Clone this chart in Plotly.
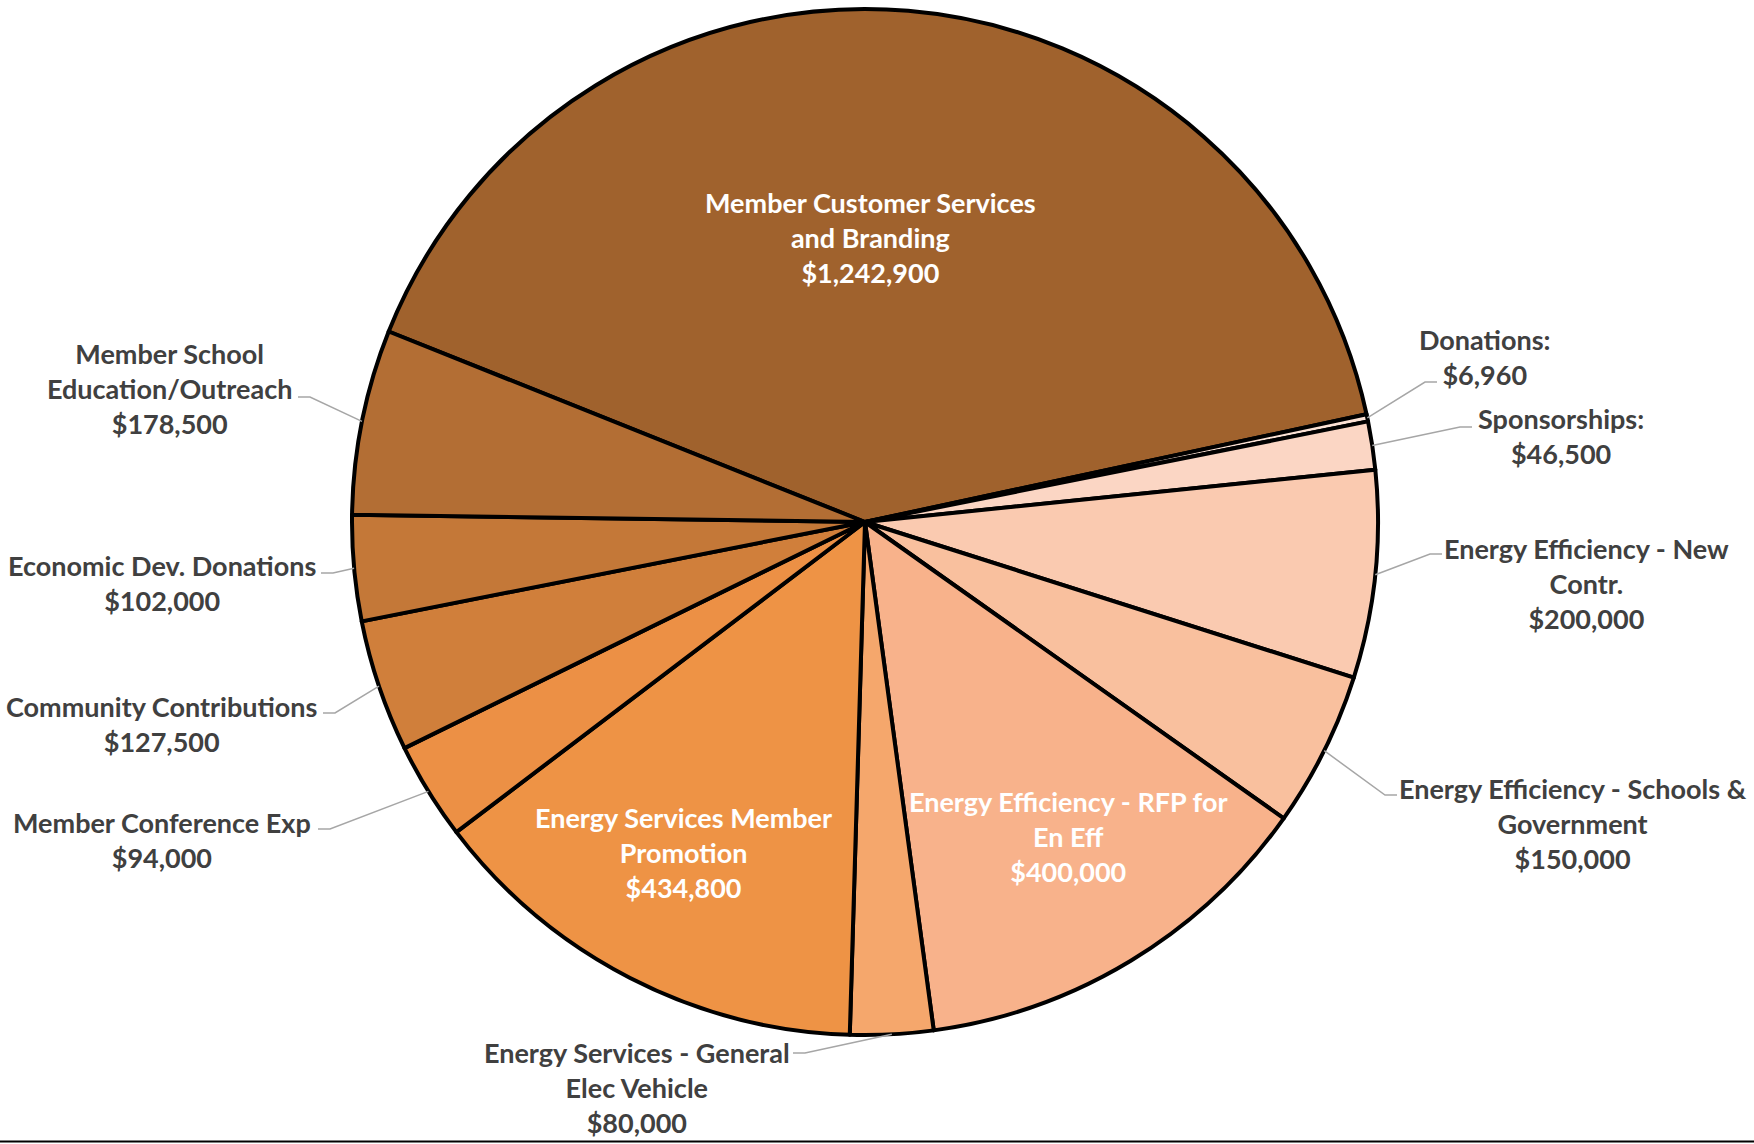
import math
import plotly.graph_objects as go

# Budget categories (clockwise order) and amounts in dollars
categories = [
    "Member Customer Services and Branding",
    "Donations",
    "Sponsorships",
    "Energy Efficiency - New Contr.",
    "Energy Efficiency - Schools & Government",
    "Energy Efficiency - RFP for En Eff",
    "Energy Services - General Elec Vehicle",
    "Energy Services Member Promotion",
    "Member Conference Exp",
    "Community Contributions",
    "Economic Dev. Donations",
    "Member School Education/Outreach",
]
values = [1242900, 6960, 46500, 200000, 150000, 400000, 80000, 434800, 94000, 127500, 102000, 178500]

# Label text as drawn (line breaks included)
label_text = [
    "Member Customer Services<br>and Branding",
    "Donations:",
    "Sponsorships:",
    "Energy Efficiency - New<br>Contr.",
    "Energy Efficiency - Schools &amp;<br>Government",
    "Energy Efficiency - RFP for<br>En Eff",
    "Energy Services - General<br>Elec Vehicle",
    "Energy Services Member<br>Promotion",
    "Member Conference Exp",
    "Community Contributions",
    "Economic Dev. Donations",
    "Member School<br>Education/Outreach",
]

colors = ["#A0622D", "#FCE2D5", "#FBD6C4", "#FACAB0", "#F9C09E", "#F8B28B",
          "#F5A76C", "#EE9345", "#EC9045", "#D07F3B", "#C47838", "#B36E34"]

# Page geometry (pixels)
W, H = 1754, 1144
CX, CY, R = 865, 522, 513
ROTATION = -68.2

# Label placement: (center x, center y, inside?, leader elbow or None)
label_layout = [
    (870, 238, True, None),
    (1485, 357, False, (1425, 382)),
    (1561, 436, False, (1460, 427)),
    (1586, 583, False, (1430, 554)),
    (1573, 823, False, (1385, 795)),
    (1068, 836, True, None),
    (637, 1087, False, (805, 1053)),
    (683, 852, True, None),
    (162, 840, False, (330, 829)),
    (161, 724, False, (335, 713)),
    (162, 583, False, (333, 573)),
    (169, 389, False, (310, 397)),
]

FONT = "Lato"
FONT_SIZE = 27


def px(x):
    return x / W


def py(y):
    return 1 - y / H


fig = go.Figure()
fig.add_trace(go.Pie(
    labels=categories,
    values=values,
    sort=False,
    direction="clockwise",
    rotation=ROTATION,
    marker=dict(colors=colors, line=dict(color="#000000", width=4)),
    textinfo="none",
    hoverinfo="label+value",
    showlegend=False,
    domain=dict(x=[px(CX - R), px(CX + R)], y=[py(CY + R), py(CY - R)]),
))

total = sum(values)
shapes = []
annotations = []
start = ROTATION
for name, val, text, lay in zip(categories, values, label_text, label_layout):
    span = 360.0 * val / total
    mid = math.radians(start + span / 2)
    start += span
    lx, ly, inside, elbow = lay
    full_text = f"{text}<br>${val:,}"
    annotations.append(dict(
        x=px(lx), y=py(ly), xref="paper", yref="paper",
        text=full_text, showarrow=False, xanchor="center", yanchor="middle",
        align="center",
        font=dict(family=FONT, size=FONT_SIZE, color="#FFFFFF" if inside else "#404040",
                  weight="bold"),
    ))
    if elbow is not None:
        ex = CX + R * math.sin(mid)
        ey = CY - R * math.cos(mid)
        bx, by = elbow
        tx = bx + 12 if bx > ex else bx - 12
        path = f"M {px(ex)},{py(ey)} L {px(bx)},{py(by)} L {px(tx)},{py(by)}"
        shapes.append(dict(type="path", path=path, xref="paper", yref="paper",
                           line=dict(color="#A6A6A6", width=1.5)))

# Rule along the bottom of the page
shapes.append(dict(type="line", xref="paper", yref="paper", x0=0, x1=1,
                   y0=py(1141.5), y1=py(1141.5), line=dict(color="#000000", width=2)))

fig.update_layout(
    width=W, height=H,
    margin=dict(l=0, r=0, t=0, b=0),
    paper_bgcolor="#FFFFFF",
    plot_bgcolor="#FFFFFF",
    shapes=shapes,
    annotations=annotations,
)

fig.write_html("out.html")
